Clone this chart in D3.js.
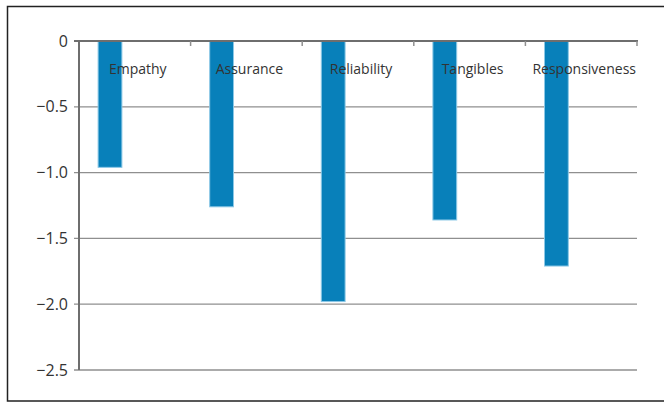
<!DOCTYPE html>
<html>
<head>
<meta charset="utf-8">
<script src="https://cdn.jsdelivr.net/npm/d3@7"></script>
<style>
  body { margin: 0; background: #fff; }
  svg { display: block; }
</style>
</head>
<body>
<div id="chart"></div>
<script>
var categories = ["Empathy", "Assurance", "Reliability", "Tangibles", "Responsiveness"];
var values = [-0.96, -1.26, -1.98, -1.36, -1.71];
var seriesSlots = ["gap", "empty1", "empty2"];
var yTicks = [0, -0.5, -1.0, -1.5, -2.0, -2.5];
var yTickLabels = ["0", "\u22120.5", "\u22121.0", "\u22121.5", "\u22122.0", "\u22122.5"];

var chartW = 664, chartH = 404;
var plotLeft = 79, plotRight = 637, plotTop = 41, plotBottom = 370;

var svg = d3.select('#chart')
    .append('svg')
    .attr('width', chartW)
    .attr('height', chartH);

// outer frame (no right edge visible)
svg.append('path')
    .attr('d', 'M670,6.5 H7.5 V401 H670')
    .attr('fill', 'none')
    .attr('stroke', '#222')
    .attr('stroke-width', 1.5);

var x = d3.scaleBand()
    .domain(categories)
    .range([plotLeft, plotRight])
    .padding(0);

// three slots per category, only the first one is filled
var xs = d3.scaleBand()
    .domain(seriesSlots)
    .range([0, x.bandwidth()])
    .paddingInner(0)
    .paddingOuter(0.75);

var y = d3.scaleLinear()
    .domain([0, -2.5])
    .range([plotTop, plotBottom]);

// gridlines
svg.selectAll('line.grid')
    .data(yTicks.slice(1))
    .enter()
    .append('line')
    .attr('class', 'grid')
    .attr('x1', plotLeft - 5)
    .attr('x2', plotRight)
    .attr('y1', function(d) { return y(d); })
    .attr('y2', function(d) { return y(d); })
    .attr('stroke', '#8f8f8f')
    .attr('stroke-width', 1.3);

// y tick labels
svg.selectAll('text.ytick')
    .data(yTicks)
    .enter()
    .append('text')
    .attr('class', 'ytick')
    .attr('x', plotLeft - 11)
    .attr('y', function(d) { return y(d); })
    .attr('dy', '0.35em')
    .attr('text-anchor', 'end')
    .attr('font-family', 'Open Sans, sans-serif')
    .attr('font-size', 16)
    .attr('fill', '#333')
    .text(function(d, i) { return yTickLabels[i]; });

// bars
svg.selectAll('rect.bar')
    .data(values)
    .enter()
    .append('rect')
    .attr('class', 'bar')
    .attr('x', function(d, i) { return x(categories[i]) + xs('gap') + 0.5; })
    .attr('y', y(0))
    .attr('width', xs.bandwidth() - 1)
    .attr('height', function(d) { return y(d) - y(0); })
    .attr('fill', '#0880ba')
    .attr('stroke', '#8cc8e6')
    .attr('stroke-width', 1);

// left axis
svg.append('line')
    .attr('x1', plotLeft).attr('x2', plotLeft)
    .attr('y1', plotTop).attr('y2', plotBottom)
    .attr('stroke', '#6e6e6e')
    .attr('stroke-width', 2);

// zero axis with category ticks
svg.append('line')
    .attr('x1', plotLeft - 5).attr('x2', plotRight + 1)
    .attr('y1', plotTop).attr('y2', plotTop)
    .attr('stroke', '#6e6e6e')
    .attr('stroke-width', 2);

svg.selectAll('line.xtick')
    .data(categories)
    .enter()
    .append('line')
    .attr('class', 'xtick')
    .attr('x1', function(d) { return x(d) + x.bandwidth(); })
    .attr('x2', function(d) { return x(d) + x.bandwidth(); })
    .attr('y1', plotTop)
    .attr('y2', plotTop + 5)
    .attr('stroke', '#8f8f8f')
    .attr('stroke-width', 1.5);

// category labels
svg.selectAll('text.cat')
    .data(categories)
    .enter()
    .append('text')
    .attr('class', 'cat')
    .attr('x', function(d) { return x(d) + x.bandwidth() / 2 + 3; })
    .attr('y', 74)
    .attr('text-anchor', 'middle')
    .attr('font-family', 'Open Sans, sans-serif')
    .attr('font-size', 14)
    .attr('fill', '#333')
    .text(function(d) { return d; });
</script>
</body>
</html>
